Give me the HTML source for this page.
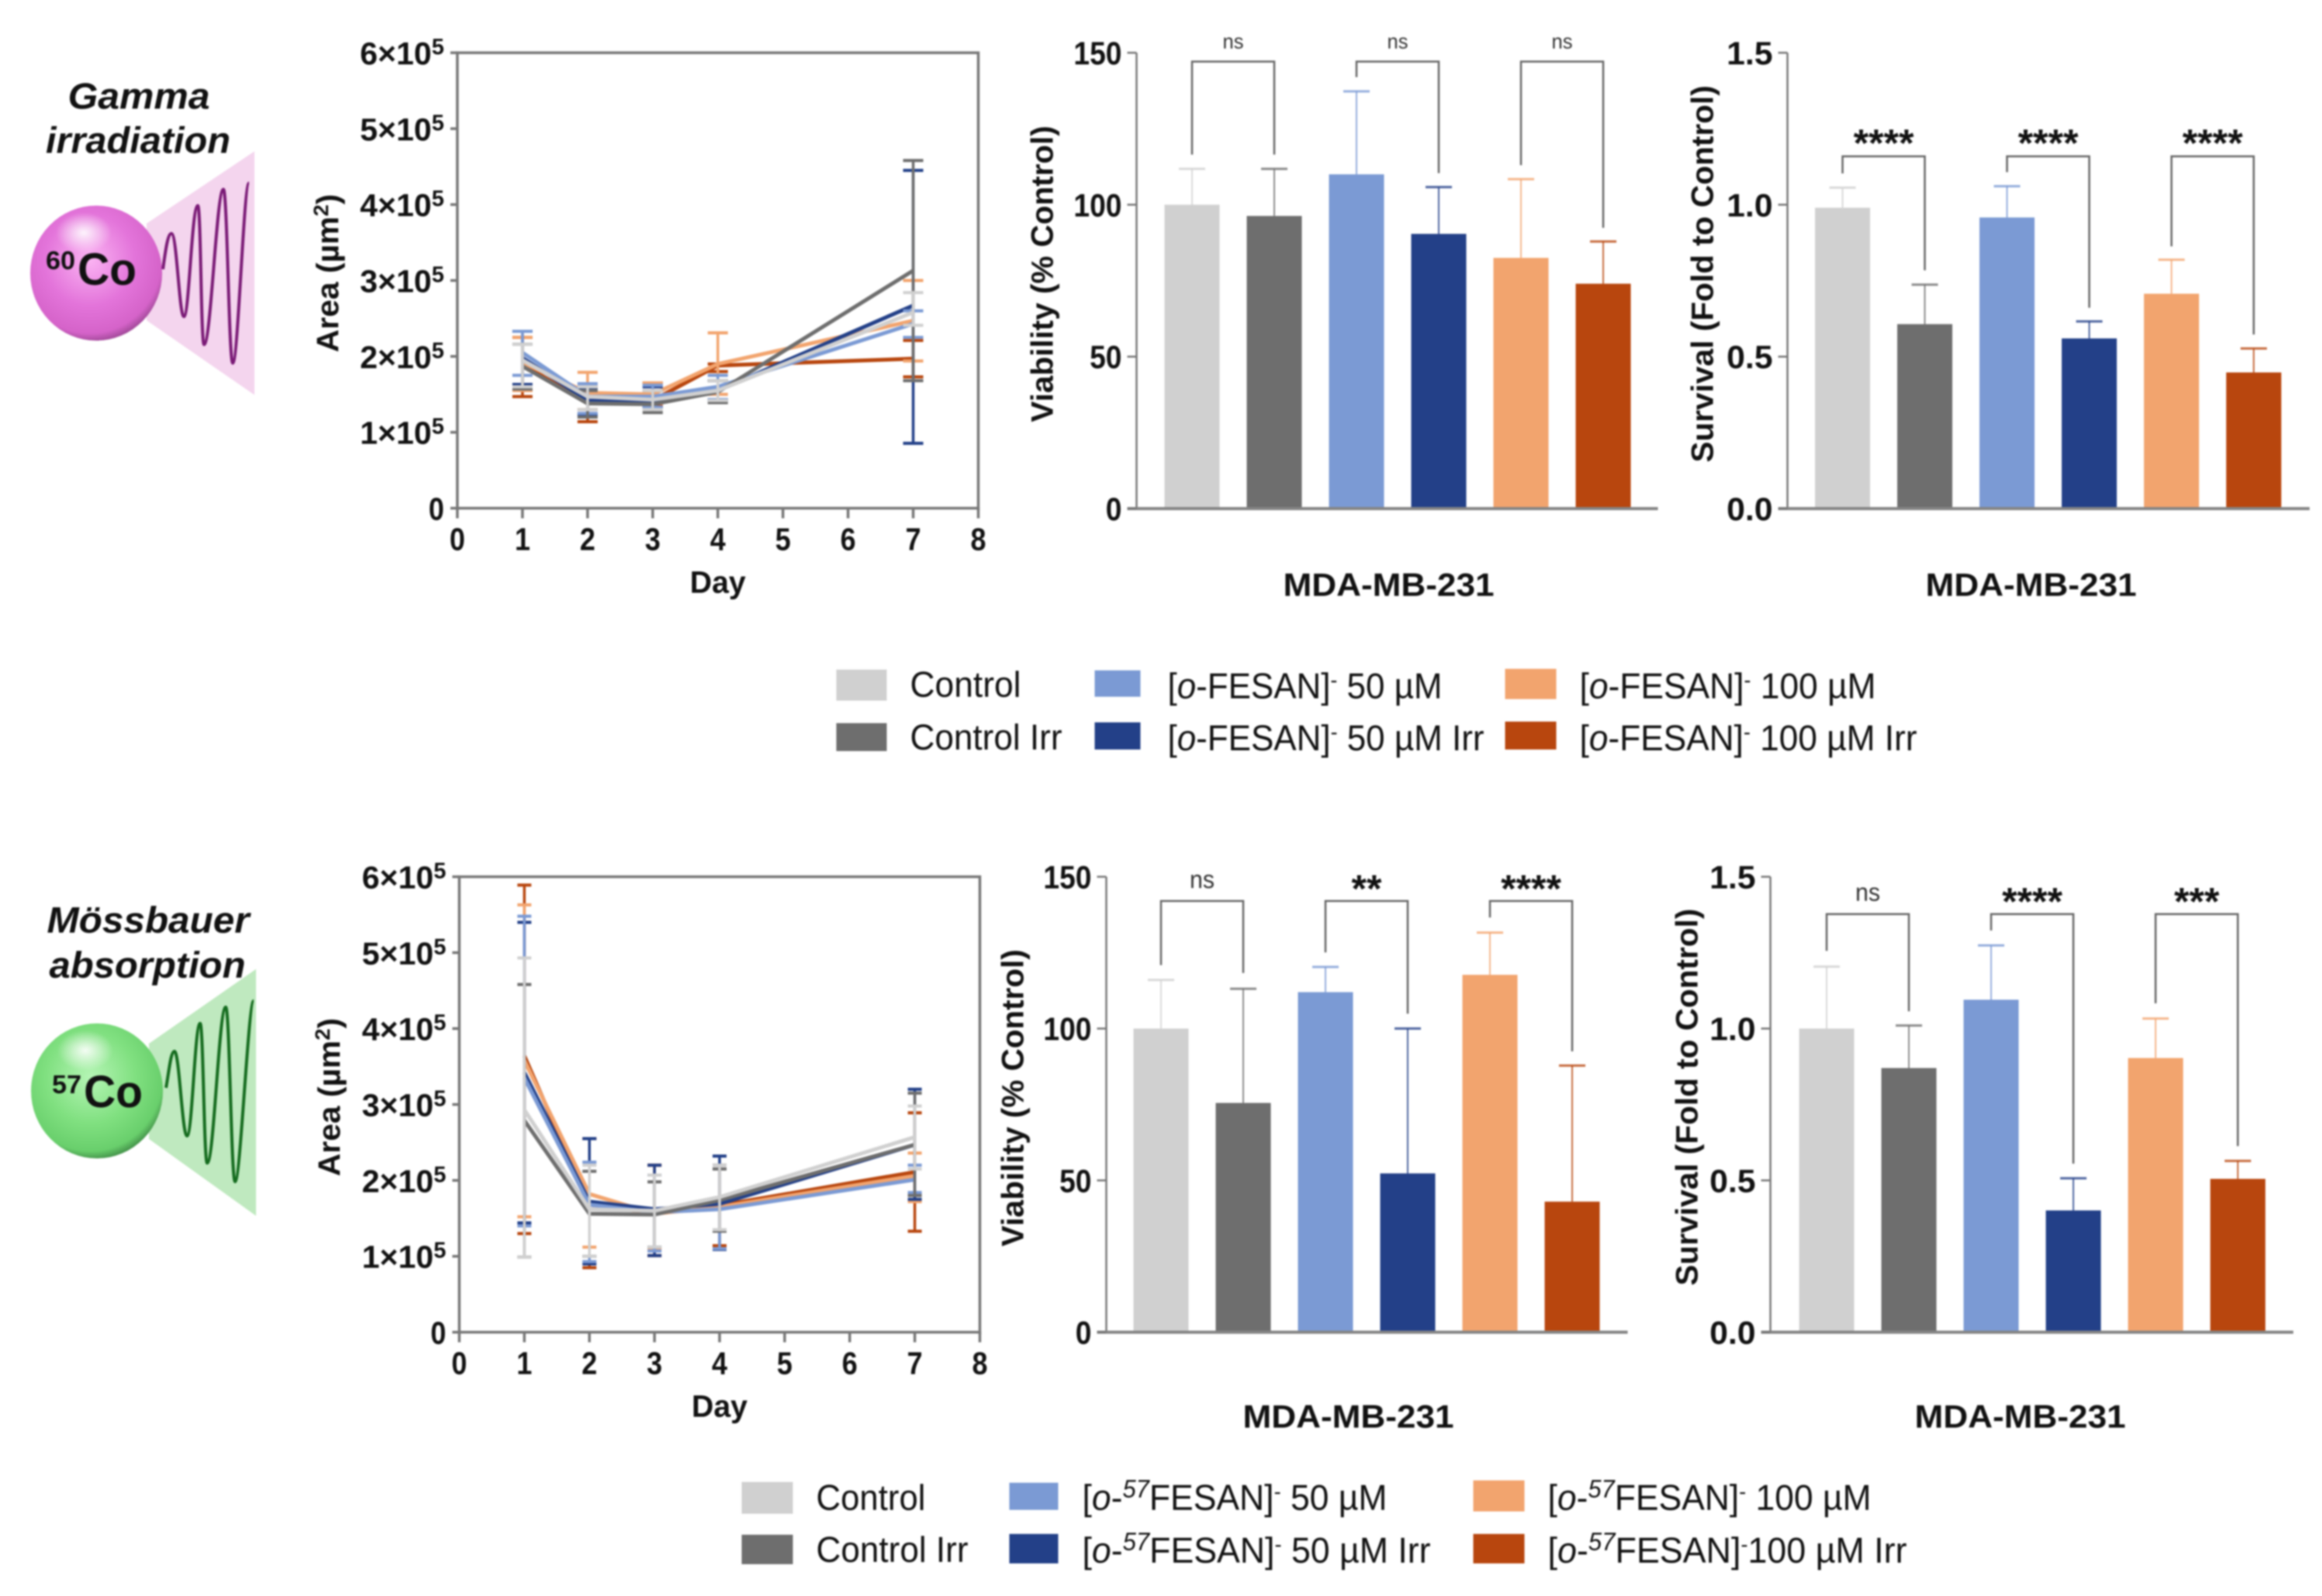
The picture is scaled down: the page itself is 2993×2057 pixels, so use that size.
<!DOCTYPE html>
<html lang="en">
<head>
<meta charset="utf-8">
<title>Gamma irradiation and Mössbauer absorption results</title>
<style>
html,body{margin:0;padding:0;background:#fff;}
svg{display:block;filter:blur(1px);font-family:"Liberation Sans",sans-serif;}
.leg{font-size:46px;fill:#111;}
.bold{font-weight:bold;fill:#111;}
</style>
</head>
<body>
<svg id="fig" xmlns="http://www.w3.org/2000/svg" width="2993" height="2057" viewBox="0 0 2993 2057">
<defs>
<radialGradient id="pinkBall" cx="0.45" cy="0.4" r="0.62">
<stop offset="0" stop-color="#fbb4f3"/><stop offset="0.55" stop-color="#e374da"/><stop offset="0.88" stop-color="#d563c9"/><stop offset="1" stop-color="#9a4592"/>
</radialGradient>
<radialGradient id="greenBall" cx="0.45" cy="0.4" r="0.62">
<stop offset="0" stop-color="#b5f5b5"/><stop offset="0.55" stop-color="#80e080"/><stop offset="0.88" stop-color="#69cf6c"/><stop offset="1" stop-color="#3f8a45"/>
</radialGradient>
<radialGradient id="shine"><stop offset="0" stop-color="#fff" stop-opacity="0.9"/><stop offset="1" stop-color="#fff" stop-opacity="0"/></radialGradient>
</defs>
<rect width="2993" height="2057" fill="#fff"/>

<g>
<text class="bold" x="179" y="140" font-size="47" font-style="italic" text-anchor="middle" textLength="183" lengthAdjust="spacingAndGlyphs">Gamma</text>
<text class="bold" x="178" y="197" font-size="47" font-style="italic" text-anchor="middle" textLength="238" lengthAdjust="spacingAndGlyphs">irradiation</text>
<polygon points="189,288 328,195 328,509 189,413" fill="#f4d5ee"/>
<ellipse cx="124" cy="352" rx="85" ry="87" fill="url(#pinkBall)"/>
<ellipse cx="108" cy="300" rx="36" ry="26" fill="url(#shine)"/>
<path d="M210 347 C213 325 216 301 221 301 C228 301 231 408 237 408 C244 408 247 265 255 265 C259 265 259 444 263 444 C272 444 279 244 288 244 C293 244 295 468 300 468 C307 468 314 236 321 236" fill="none" stroke="#7a1a76" stroke-width="4"/>
<text class="bold" x="59" y="347" font-size="33" textLength="38" lengthAdjust="spacingAndGlyphs">60</text>
<text class="bold" x="100" y="367" font-size="58" textLength="76" lengthAdjust="spacingAndGlyphs">Co</text>
</g>

<g>
<text class="bold" x="191" y="1202" font-size="47" font-style="italic" text-anchor="middle" textLength="261" lengthAdjust="spacingAndGlyphs">Mössbauer</text>
<text class="bold" x="190" y="1260" font-size="47" font-style="italic" text-anchor="middle" textLength="253" lengthAdjust="spacingAndGlyphs">absorption</text>
<polygon points="192,1345 330,1249 330,1567 192,1468" fill="#bfe9bf"/>
<ellipse cx="125" cy="1406" rx="85" ry="87" fill="url(#greenBall)"/>
<ellipse cx="110" cy="1354" rx="36" ry="26" fill="url(#shine)"/>
<path d="M214 1402 C218 1380 220 1355 225 1355 C231 1355 235 1464 241 1464 C248 1464 251 1319 258 1319 C262 1319 263 1499 267 1499 C276 1499 282 1298 291 1298 C296 1298 298 1523 303 1523 C310 1523 320 1290 327 1290" fill="none" stroke="#146b1e" stroke-width="4"/>
<text class="bold" x="67" y="1409" font-size="33" textLength="38" lengthAdjust="spacingAndGlyphs">57</text>
<text class="bold" x="108" y="1427" font-size="58" textLength="76" lengthAdjust="spacingAndGlyphs">Co</text>
</g>

<g>
<rect x="1078" y="863" width="65" height="40" fill="#d0d0d0"/>
<text class="leg" x="1173" y="898" textLength="143" lengthAdjust="spacingAndGlyphs">Control</text>
<rect x="1078" y="932" width="65" height="36" fill="#6e6e6e"/>
<text class="leg" x="1173" y="966" textLength="196" lengthAdjust="spacingAndGlyphs">Control Irr</text>
<rect x="1411" y="864" width="59" height="34" fill="#7b9ad4"/>
<text class="leg" x="1505" y="900" textLength="354" lengthAdjust="spacingAndGlyphs">[<tspan font-style="italic">o</tspan>-FESAN]<tspan dy="-14" font-size="28">-</tspan><tspan dy="14"> 50 µM</tspan></text>
<rect x="1411" y="931" width="59" height="35" fill="#234088"/>
<text class="leg" x="1505" y="967" textLength="408" lengthAdjust="spacingAndGlyphs">[<tspan font-style="italic">o</tspan>-FESAN]<tspan dy="-14" font-size="28">-</tspan><tspan dy="14"> 50 µM Irr</tspan></text>
<rect x="1940" y="862" width="66" height="39" fill="#f2a46e"/>
<text class="leg" x="2036" y="900" textLength="382" lengthAdjust="spacingAndGlyphs">[<tspan font-style="italic">o</tspan>-FESAN]<tspan dy="-14" font-size="28">-</tspan><tspan dy="14"> 100 µM</tspan></text>
<rect x="1940" y="930" width="66" height="36" fill="#b8460e"/>
<text class="leg" x="2036" y="967" textLength="435" lengthAdjust="spacingAndGlyphs">[<tspan font-style="italic">o</tspan>-FESAN]<tspan dy="-14" font-size="28">-</tspan><tspan dy="14"> 100 µM Irr</tspan></text>
</g>

<g>
<rect x="956" y="1910" width="66" height="41" fill="#d0d0d0"/>
<text class="leg" x="1052" y="1946" textLength="141" lengthAdjust="spacingAndGlyphs">Control</text>
<rect x="956" y="1978" width="66" height="38" fill="#6e6e6e"/>
<text class="leg" x="1052" y="2013" textLength="196" lengthAdjust="spacingAndGlyphs">Control Irr</text>
<rect x="1301" y="1911" width="63" height="35" fill="#7b9ad4"/>
<text class="leg" x="1395" y="1946" textLength="393" lengthAdjust="spacingAndGlyphs">[<tspan font-style="italic">o</tspan>-<tspan dy="-16" font-size="32" font-style="italic">57</tspan><tspan dy="16">FESAN]</tspan><tspan dy="-14" font-size="28">-</tspan><tspan dy="14"> 50 µM</tspan></text>
<rect x="1301" y="1977" width="63" height="38" fill="#234088"/>
<text class="leg" x="1395" y="2014" textLength="449" lengthAdjust="spacingAndGlyphs">[<tspan font-style="italic">o</tspan>-<tspan dy="-16" font-size="32" font-style="italic">57</tspan><tspan dy="16">FESAN]</tspan><tspan dy="-14" font-size="28">-</tspan><tspan dy="14"> 50 µM Irr</tspan></text>
<rect x="1899" y="1908" width="66" height="40" fill="#f2a46e"/>
<text class="leg" x="1995" y="1946" textLength="417" lengthAdjust="spacingAndGlyphs">[<tspan font-style="italic">o</tspan>-<tspan dy="-16" font-size="32" font-style="italic">57</tspan><tspan dy="16">FESAN]</tspan><tspan dy="-14" font-size="28">-</tspan><tspan dy="14"> 100 µM</tspan></text>
<rect x="1899" y="1977" width="66" height="38" fill="#b8460e"/>
<text class="leg" x="1995" y="2014" textLength="463" lengthAdjust="spacingAndGlyphs">[<tspan font-style="italic">o</tspan>-<tspan dy="-16" font-size="32" font-style="italic">57</tspan><tspan dy="16">FESAN]</tspan><tspan dy="-14" font-size="28">-</tspan><tspan dy="14">100 µM Irr</tspan></text>
</g>
</svg>

<script>
// ---------- shared axis data ----------
const days = [1, 2, 3, 4, 7];
const dayTicks = [0, 1, 2, 3, 4, 5, 6, 7, 8];
const areaTicks = [0, 1, 2, 3, 4, 5, 6];
const viabilityTicks = [0, 50, 100, 150];
const viabilityTickLabels = ['0', '50', '100', '150'];
const survivalTicks = [0, 0.5, 1, 1.5];
const survivalTickLabels = ['0.0', '0.5', '1.0', '1.5'];
const groupNames = ['control', 'control-irr', 'fesan-50', 'fesan-50-irr', 'fesan-100', 'fesan-100-irr'];

// ---------- gamma area series (x 10^5 µm²) ----------
const gammaControl = [1.95, 1.47, 1.43, 1.55, 2.58];
const gammaControlHi = [2.16, 1.6, 1.55, 1.68, 2.84];
const gammaControlLo = [1.6, 1.3, 1.3, 1.42, 2.41];
const gammaControlIrr = [1.87, 1.38, 1.37, 1.53, 3.13];
const gammaControlIrrHi = [2.16, 1.55, 1.55, 1.68, 4.58];
const gammaControlIrrLo = [1.57, 1.2, 1.26, 1.39, 1.68];
const gamma50 = [2.05, 1.47, 1.47, 1.6, 2.43];
const gamma50Hi = [2.33, 1.64, 1.62, 1.75, 2.6];
const gamma50Lo = [1.75, 1.25, 1.33, 1.43, 2.25];
const gamma50Irr = [1.98, 1.42, 1.4, 1.55, 2.67];
const gamma50IrrHi = [2.33, 1.58, 1.6, 1.68, 4.45];
const gamma50IrrLo = [1.63, 1.23, 1.33, 1.43, 0.855];
const gamma100 = [1.92, 1.52, 1.5, 1.9, 2.47];
const gamma100Hi = [2.25, 1.79, 1.65, 2.31, 3.0];
const gamma100Lo = [1.55, 1.3, 1.38, 1.5, 1.94];
const gamma100Irr = [1.9, 1.38, 1.42, 1.88, 1.97];
const gamma100IrrHi = [2.25, 1.6, 1.65, 1.9, 2.21];
const gamma100IrrLo = [1.47, 1.14, 1.35, 1.8, 1.73];

// ---------- Mössbauer area series (x 10^5 µm²) ----------
const mossControl = [2.93, 1.62, 1.6, 1.78, 2.57];
const mossControlHi = [4.93, 2.2, 2.07, 2.2, 2.98];
const mossControlLo = [0.99, 1.0, 1.12, 1.35, 2.15];
const mossControlIrr = [2.79, 1.56, 1.55, 1.74, 2.47];
const mossControlIrrHi = [4.58, 2.12, 1.98, 2.15, 3.15];
const mossControlIrrLo = [0.99, 1.0, 1.12, 1.33, 1.8];
const moss50 = [3.35, 1.68, 1.58, 1.62, 2.01];
const moss50Hi = [5.48, 2.24, 2.07, 2.2, 2.2];
const moss50Lo = [1.4, 0.93, 1.07, 1.1, 1.84];
const moss50Irr = [3.42, 1.72, 1.62, 1.69, 2.47];
const moss50IrrHi = [5.4, 2.55, 2.2, 2.32, 3.2];
const moss50IrrLo = [1.44, 0.9, 1.01, 1.09, 1.75];
const moss100 = [3.58, 1.82, 1.56, 1.65, 2.06];
const moss100Hi = [5.63, 2.55, 2.2, 2.2, 2.36];
const moss100Lo = [1.52, 1.12, 1.1, 1.1, 1.72];
const moss100Irr = [3.64, 1.68, 1.57, 1.67, 2.11];
const moss100IrrHi = [5.89, 2.55, 2.2, 2.2, 2.89];
const moss100IrrLo = [1.3, 0.85, 1.01, 1.14, 1.33];

// ---------- bar chart values ----------
const gammaViability = [100, 96.3, 110, 90.4, 82.5, 74];
const gammaViabilityErr = [111.8, 111.8, 137.3, 105.8, 108.4, 87.9];
const gammaSurvival = [0.99, 0.607, 0.958, 0.56, 0.707, 0.448];
const gammaSurvivalErr = [1.056, 0.737, 1.061, 0.616, 0.819, 0.527];
const mossViability = [100, 75.5, 112, 52.3, 117.7, 43];
const mossViabilityErr = [116, 113.1, 120.3, 100, 131.6, 87.8];
const mossSurvival = [1.0, 0.87, 1.095, 0.401, 0.903, 0.505];
const mossSurvivalErr = [1.204, 1.01, 1.274, 0.507, 1.033, 0.564];

// ---------- significance brackets (axis units) ----------
const gammaViabilityStars = ['ns', 'ns', 'ns'];
const gammaViabilityBracketTop = [147.1, 147.1, 147.1];
const gammaViabilityLegLeft = [116.5, 142, 113];
const gammaViabilityLegRight = [116.5, 110.4, 92.4];
const gammaSurvivalStars = ['****', '****', '****'];
const gammaSurvivalBracketTop = [1.159, 1.159, 1.159];
const gammaSurvivalLegLeft = [1.103, 1.107, 0.863];
const gammaSurvivalLegRight = [0.784, 0.661, 0.573];
const mossViabilityStars = ['ns', '**', '****'];
const mossViabilityBracketTop = [142, 142, 142];
const mossViabilityLegLeft = [120.9, 125.1, 136.6];
const mossViabilityLegRight = [118.3, 104.9, 92.5];
const mossSurvivalStars = ['ns', '****', '***'];
const mossSurvivalBracketTop = [1.377, 1.377, 1.377];
const mossSurvivalLegLeft = [1.256, 1.323, 1.083];
const mossSurvivalLegRight = [1.057, 0.555, 0.613];

// ---------- palette ----------
const groupColors = ['#d0d0d0', '#6e6e6e', '#7b9ad4', '#234088', '#f2a46e', '#b8460e'];
const drawOrder = [5, 4, 3, 2, 1, 0];

const NS = 'http://www.w3.org/2000/svg';
const fig = document.getElementById('fig');
const axisGray = '#777';

function add(parent, tag, attrs, text) {
  const node = document.createElementNS(NS, tag);
  for (const k in attrs) node.setAttribute(k, attrs[k]);
  if (text !== undefined) node.textContent = text;
  parent.appendChild(node);
  return node;
}

function linear(d0, d1, r0, r1) {
  return function (v) { return r0 + (v - d0) * (r1 - r0) / (d1 - d0); };
}

function labelWidth(label) {
  let w = 0;
  for (const ch of label) w += ch === '.' ? 18 : 20.7;
  return w;
}

function axisTitle(parent, bx, cy, len) {
  const t = add(parent, 'text', { x: 0, y: 0, 'font-size': 40, 'font-weight': 'bold', fill: '#111', 'text-anchor': 'middle', textLength: len, lengthAdjust: 'spacingAndGlyphs', transform: 'translate(' + bx + ',' + cy + ') rotate(-90)' });
  
  
  return t;
}

function drawAreaChart(name, left, right, top, bottom, series, capHalf, titleX, titleY) {
  const g = add(fig, 'g', {});
  
  
  const x = linear(0, 8, left, right);
  const y = linear(0, 6, bottom, top);

  const frame = add(g, 'rect', { x: left, y: top, width: right - left, height: bottom - top, fill: 'none', stroke: axisGray, 'stroke-width': 3.5 });
  
  

  areaTicks.forEach(function (v) {
    const tick = add(g, 'line', { x1: left - 9, x2: left, y1: y(v), y2: y(v), stroke: axisGray, 'stroke-width': 3.5 });
    
    
    const lab = add(g, 'text', { x: left - 17, y: y(v) + 15, 'font-size': 41, 'font-weight': 'bold', fill: '#111', 'text-anchor': 'end' });
    
    
    if (v === 0) {
      lab.textContent = '0';
      lab.setAttribute('textLength', 20);
      lab.setAttribute('lengthAdjust', 'spacingAndGlyphs');
    } else {
      add(lab, 'tspan', {}, v + '×10');
      const sup = add(lab, 'tspan', { dy: -13, 'font-size': 29 }, '5');
      
      
    }
  });
  dayTicks.forEach(function (v) {
    const tick = add(g, 'line', { x1: x(v), x2: x(v), y1: bottom, y2: bottom + 13, stroke: axisGray, 'stroke-width': 3.5 });
    
    
    const lab = add(g, 'text', { x: x(v), y: bottom + 54, 'font-size': 41, 'font-weight': 'bold', fill: '#111', 'text-anchor': 'middle', textLength: 20, lengthAdjust: 'spacingAndGlyphs' }, String(v));
    
    
  });
  const day = add(g, 'text', { x: x(4), y: bottom + 109, 'font-size': 40, 'font-weight': 'bold', fill: '#111', 'text-anchor': 'middle', textLength: 72, lengthAdjust: 'spacingAndGlyphs' }, 'Day');
  
  
  const title = axisTitle(g, titleX, titleY, 204);
  add(title, 'tspan', {}, 'Area (µm');
  add(title, 'tspan', { dy: -13, 'font-size': 27 }, '2');
  add(title, 'tspan', { dy: 13 }, ')');

  drawOrder.forEach(function (idx) {
    const s = series[idx];
    const color = groupColors[idx];
    const sg = add(g, 'g', {});
    
    
    days.forEach(function (d, i) {
      const vert = add(sg, 'line', { x1: x(d), x2: x(d), y1: y(s.hi[i]), y2: y(s.lo[i]), stroke: color, 'stroke-width': 3.5 });
      
      
      const capHi = add(sg, 'line', { x1: x(d) - capHalf, x2: x(d) + capHalf, y1: y(s.hi[i]), y2: y(s.hi[i]), stroke: color, 'stroke-width': 4 });
      
      
      const capLo = add(sg, 'line', { x1: x(d) - capHalf, x2: x(d) + capHalf, y1: y(s.lo[i]), y2: y(s.lo[i]), stroke: color, 'stroke-width': 4 });
      
      
    });
    const pts = days.map(function (d, i) { return x(d) + ',' + y(s.mean[i]); }).join(' ');
    const line = add(sg, 'polyline', { points: pts, fill: 'none', stroke: color, 'stroke-width': 5, 'stroke-linejoin': 'miter' });
    
    
  });
}

function drawBarChart(name, axisX, axisEnd, top, bottom, firstCenter, ticks, tickLabels, yMax, values, errs, stars, bracketTop, legLeft, legRight, starOffset, nsSize, title, titleX, titleY, titleLen, caption, capX, capY) {
  const g = add(fig, 'g', {});
  
  
  const pitch = 106;
  const barW = 71;
  const x = function (i) { return firstCenter + pitch * i; };
  const y = linear(0, yMax, bottom, top);

  values.forEach(function (v, i) {
    const color = groupColors[i];
    const bar = add(g, 'rect', { x: x(i) - barW / 2, y: y(v), width: barW, height: bottom - y(v), fill: color });
    
    
    const vert = add(g, 'line', { x1: x(i), x2: x(i), y1: y(v), y2: y(errs[i]), stroke: color, 'stroke-width': 2, 'stroke-opacity': 0.8 });
    
    
    const cap = add(g, 'line', { x1: x(i) - 17, x2: x(i) + 17, y1: y(errs[i]), y2: y(errs[i]), stroke: color, 'stroke-width': 3, 'stroke-opacity': 0.8 });
    
    
  });

  const yAxis = add(g, 'line', { x1: axisX, x2: axisX, y1: top, y2: bottom, stroke: axisGray, 'stroke-width': 2.5 });
  
  
  const xAxis = add(g, 'line', { x1: axisX - 12, x2: axisEnd, y1: bottom, y2: bottom, stroke: '#858585', 'stroke-width': 4 });
  
  

  ticks.forEach(function (v, i) {
    const tick = add(g, 'line', { x1: axisX - 12, x2: axisX, y1: y(v), y2: y(v), stroke: axisGray, 'stroke-width': 2.5 });
    
    
    const lab = add(g, 'text', { x: axisX - 19, y: y(v) + 15, 'font-size': 42, 'font-weight': 'bold', fill: '#111', 'text-anchor': 'end', textLength: labelWidth(tickLabels[i]), lengthAdjust: 'spacingAndGlyphs' }, tickLabels[i]);
    
    
  });

  stars.forEach(function (label, i) {
    const xl = x(i * 2);
    const xr = x(i * 2 + 1);
    const path = 'M' + xl + ' ' + y(legLeft[i]) + 'V' + y(bracketTop[i]) + 'H' + xr + 'V' + y(legRight[i]);
    const br = add(g, 'path', { d: path, fill: 'none', stroke: '#666', 'stroke-width': 2.5 });
    
    
    const isNs = label === 'ns';
    const attrs = { x: (xl + xr) / 2, y: y(bracketTop[i]) + (isNs ? -17 : starOffset), 'font-size': isNs ? nsSize : 50, 'font-weight': isNs ? 'normal' : 'bold', fill: isNs ? '#333' : '#111', 'text-anchor': 'middle' };
    if (isNs) { attrs.textLength = nsSize; attrs.lengthAdjust = 'spacingAndGlyphs'; }
    const t = add(g, 'text', attrs, label);
    
    
  });

  axisTitle(g, titleX, titleY, titleLen).textContent = title;
  const cap = add(g, 'text', { x: capX, y: capY, 'font-size': 42, 'font-weight': 'bold', fill: '#111', 'text-anchor': 'middle', textLength: 272, lengthAdjust: 'spacingAndGlyphs' }, caption);
  
  
}

const gammaSeries = [
  { mean: gammaControl, hi: gammaControlHi, lo: gammaControlLo },
  { mean: gammaControlIrr, hi: gammaControlIrrHi, lo: gammaControlIrrLo },
  { mean: gamma50, hi: gamma50Hi, lo: gamma50Lo },
  { mean: gamma50Irr, hi: gamma50IrrHi, lo: gamma50IrrLo },
  { mean: gamma100, hi: gamma100Hi, lo: gamma100Lo },
  { mean: gamma100Irr, hi: gamma100IrrHi, lo: gamma100IrrLo }
];
const mossSeries = [
  { mean: mossControl, hi: mossControlHi, lo: mossControlLo },
  { mean: mossControlIrr, hi: mossControlIrrHi, lo: mossControlIrrLo },
  { mean: moss50, hi: moss50Hi, lo: moss50Lo },
  { mean: moss50Irr, hi: moss50IrrHi, lo: moss50IrrLo },
  { mean: moss100, hi: moss100Hi, lo: moss100Lo },
  { mean: moss100Irr, hi: moss100IrrHi, lo: moss100IrrLo }
];

drawAreaChart('gamma', 589.5, 1261, 68, 655, gammaSeries, 13, 436, 352);
drawAreaChart('mossbauer', 592, 1263, 1130, 1717, mossSeries, 9, 438, 1414);

drawBarChart('gamma-viability-chart', 1465, 2137, 68, 655.5, 1536.5, viabilityTicks, viabilityTickLabels, 150, gammaViability, gammaViabilityErr, gammaViabilityStars, gammaViabilityBracketTop, gammaViabilityLegLeft, gammaViabilityLegRight, 0, 27, 'Viability (% Control)', 1357, 353, 382, 'MDA-MB-231', 1790, 768);
drawBarChart('gamma-survival-chart', 2304, 2977, 68, 655.5, 2375, survivalTicks, survivalTickLabels, 1.5, gammaSurvival, gammaSurvivalErr, gammaSurvivalStars, gammaSurvivalBracketTop, gammaSurvivalLegLeft, gammaSurvivalLegRight, 0, 27, 'Survival (Fold to Control)', 2208, 353, 486, 'MDA-MB-231', 2618, 768);
drawBarChart('mossbauer-viability-chart', 1426, 2098, 1130, 1717, 1496.5, viabilityTicks, viabilityTickLabels, 150, mossViability, mossViabilityErr, mossViabilityStars, mossViabilityBracketTop, mossViabilityLegLeft, mossViabilityLegRight, 1, 32, 'Viability (% Control)', 1319, 1415, 383, 'MDA-MB-231', 1738, 1840);
drawBarChart('mossbauer-survival-chart', 2282, 2956, 1130, 1717, 2354.5, survivalTicks, survivalTickLabels, 1.5, mossSurvival, mossSurvivalErr, mossSurvivalStars, mossSurvivalBracketTop, mossSurvivalLegLeft, mossSurvivalLegRight, 1, 32, 'Survival (Fold to Control)', 2188, 1414, 486, 'MDA-MB-231', 2604, 1840);
</script>
</body>
</html>
